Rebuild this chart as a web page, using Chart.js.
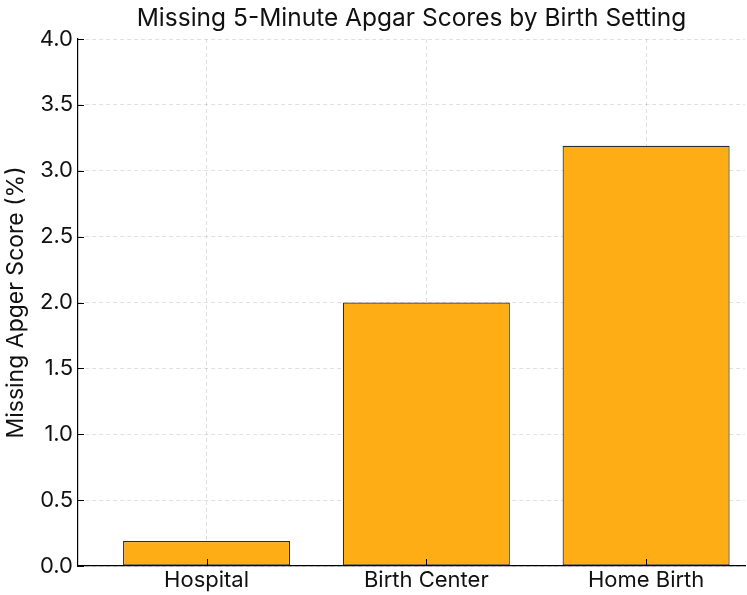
<!DOCTYPE html>
<html>
<head>
<meta charset="utf-8">
<script src="https://cdn.jsdelivr.net/npm/chart.js@4/dist/chart.umd.min.js"></script>
<style>
  html, body { margin: 0; padding: 0; background: #fff; }
  #wrap { width: 747px; height: 595px; }
</style>
</head>
<body>
<div id="wrap"><canvas id="c" width="747" height="595"></canvas></div>
<script>
const categories = ["Hospital", "Birth Center", "Home Birth"];
const missingPct = [0.19, 2.0, 3.19];
const yTicks = [0, 0.5, 1.0, 1.5, 2.0, 2.5, 3.0, 3.5, 4.0];
const titleText = "Missing 5-Minute Apgar Scores by Birth Setting";
const yTitleText = "Missing Apger Score (%)";

const FONT = "Inter, 'DejaVu Sans', sans-serif";

const inwardTicks = {
  id: 'inwardTicks',
  afterDraw(chart) {
    const ctx = chart.ctx;
    const xs = chart.scales.x, ys = chart.scales.y;
    const a = chart.chartArea;
    ctx.save();
    ctx.strokeStyle = '#000';
    ctx.lineWidth = 1;
    ctx.setLineDash([]);
    ctx.beginPath();
    ys.ticks.forEach(t => {
      const py = Math.round(ys.getPixelForValue(t.value)) + 0.5;
      ctx.moveTo(a.left, py); ctx.lineTo(a.left + 6, py);
    });
    xs.ticks.forEach(t => {
      const px = Math.round(xs.getPixelForValue(t.value)) + 0.5;
      ctx.moveTo(px, a.bottom); ctx.lineTo(px, a.bottom - 7);
    });
    ctx.stroke();
    ctx.restore();
  }
};

new Chart(document.getElementById('c'), {
  type: 'bar',
  data: {
    datasets: [{
      data: categories.map((c, i) => ({ x: i, y: missingPct[i] })),
      backgroundColor: '#FFAD14',
      borderColor: '#2b2b2b',
      borderWidth: 1.2,
      borderSkipped: false,
      categoryPercentage: 1.0,
      barPercentage: 0.76
    }]
  },
  options: {
    responsive: false,
    animation: false,
    layout: { padding: { left: 0, right: 2, top: 0, bottom: 0 } },
    plugins: {
      legend: { display: false },
      tooltip: { enabled: false },
      title: {
        display: true,
        fullSize: false,
        text: titleText,
        color: '#111',
        font: { family: FONT, size: 24.5, weight: 'normal', lineHeight: 1.2 },
        padding: { top: 4, bottom: 5.6 }
      }
    },
    scales: {
      x: {
        type: 'linear',
        min: -0.585,
        max: 2.45,
        offset: false,
        z: 1,
        afterBuildTicks: s => { s.ticks = categories.map((c, i) => ({ value: i })); },
        afterFit: s => { s.height = 29; },
        ticks: {
          callback: v => categories[v] ?? '',
          color: '#111',
          font: { family: FONT, size: 22 },
          padding: 1,
          maxRotation: 0
        },
        grid: {
          offset: false,
          color: 'rgba(0,0,0,0.12)',
          drawTicks: false,
          lineWidth: 1
        },
        border: { display: true, color: '#000', width: 1.2, dash: [4, 3] }
      },
      y: {
        min: 0,
        max: 4,
        z: 1,
        afterBuildTicks: s => { s.ticks = yTicks.map(v => ({ value: v })); },
        afterFit: s => { s.width = 78; },
        ticks: {
          callback: v => v.toFixed(1),
          color: '#111',
          font: { family: FONT, size: 22 },
          padding: 5
        },
        grid: {
          color: 'rgba(0,0,0,0.12)',
          drawTicks: false,
          lineWidth: 1
        },
        border: { display: true, color: '#000', width: 1.2, dash: [4, 3] },
        title: {
          display: true,
          text: yTitleText,
          color: '#111',
          font: { family: FONT, size: 23 },
          padding: { top: 2, bottom: 4 }
        }
      }
    }
  },
  plugins: [inwardTicks]
});
</script>
</body>
</html>
